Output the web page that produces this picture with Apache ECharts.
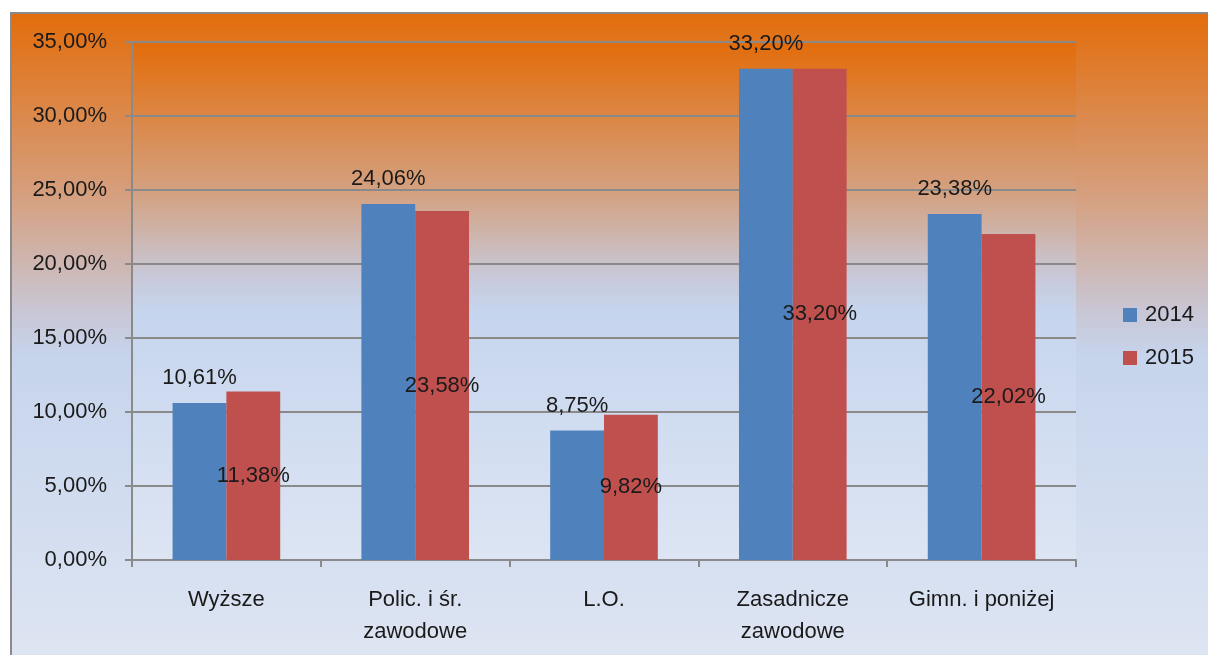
<!DOCTYPE html>
<html>
<head>
<meta charset="utf-8">
<script src="https://cdn.jsdelivr.net/npm/echarts@6/dist/echarts.min.js"></script>
<style>
html,body{margin:0;padding:0;background:#fff;}
#chart{width:1208px;height:655px;}
</style>
</head>
<body>
<div id="chart"></div>
<script>
const categories = ['Wyższe', 'Polic. i śr.\nzawodowe', 'L.O.', 'Zasadnicze\nzawodowe', 'Gimn. i poniżej'];
const seriesNames = ['2014', '2015'];
const values2014 = [10.61, 24.06, 8.75, 33.20, 23.38];
const values2015 = [11.38, 23.58, 9.82, 33.20, 22.02];
const yMin = 0, yMax = 35, yInterval = 5;

const fmt = v => v.toFixed(2).replace('.', ',') + '%';
const FONT = 'Liberation Sans';
const chart = echarts.init(document.getElementById('chart'));

const outerGrad = new echarts.graphic.LinearGradient(0, 0, 0, 1, [
  {offset: 0, color: '#e36c0a'},
  {offset: 0.28, color: '#d5a080'},
  {offset: 0.45, color: '#c9c6d4'},
  {offset: 0.52, color: '#c6d4ec'},
  {offset: 1, color: '#dfe6f3'}
]);
const plotGrad = new echarts.graphic.LinearGradient(0, 0, 0, 1, [
  {offset: 0, color: '#e36c0a'},
  {offset: 0.3, color: '#d3a385'},
  {offset: 0.45, color: '#c8c8d8'},
  {offset: 0.52, color: '#c6d5ee'},
  {offset: 1, color: '#dde5f3'}
]);

chart.setOption({
  animation: false,
  backgroundColor: '#ffffff',
  graphic: [{
    type: 'rect', z: -10, silent: true,
    shape: {x: 11, y: 13, width: 1220, height: 660},
    style: {fill: outerGrad, stroke: '#8a8a8a', lineWidth: 2}
  }],
  grid: {
    left: 132, right: 132, top: 42, bottom: 95,
    show: true, backgroundColor: plotGrad, borderWidth: 0
  },
  legend: {
    orient: 'vertical',
    left: 1118, top: 299,
    itemWidth: 14, itemHeight: 14, itemGap: 21,
    icon: 'rect',
    data: seriesNames,
    textStyle: {fontFamily: FONT, fontSize: 22, color: '#1a1a1a', padding: [0, 0, 0, 3]}
  },
  xAxis: {
    type: 'category',
    data: categories,
    axisLine: {show: true, lineStyle: {color: '#8a8a8a', width: 2}},
    axisTick: {show: true, length: 7, inside: false, lineStyle: {color: '#8a8a8a', width: 2}},
    axisLabel: {fontFamily: FONT, fontSize: 22, color: '#1a1a1a', margin: 24, lineHeight: 32, interval: 0}
  },
  yAxis: {
    type: 'value',
    min: yMin, max: yMax, interval: yInterval,
    axisLine: {show: true, lineStyle: {color: '#8a8a8a', width: 2}},
    axisTick: {show: true, length: 7, lineStyle: {color: '#8a8a8a', width: 2}},
    splitLine: {show: true, lineStyle: {color: '#8a8a8a', width: 2}},
    axisLabel: {fontFamily: FONT, fontSize: 22, color: '#1a1a1a', margin: 25, formatter: fmt}
  },
  series: [
    {
      name: seriesNames[0], type: 'bar', data: values2014,
      barWidth: '28.5%', barGap: '0%',
      itemStyle: {color: '#4f81bd'},
      label: {show: true, position: 'top', distance: 14, formatter: p => fmt(p.value),
        fontFamily: FONT, fontSize: 22, color: '#1a1a1a'}
    },
    {
      name: seriesNames[1], type: 'bar', data: values2015,
      barWidth: '28.5%',
      itemStyle: {color: '#c0504d'},
      label: {show: true, position: 'inside', formatter: p => fmt(p.value),
        fontFamily: FONT, fontSize: 22, color: '#1a1a1a'}
    }
  ]
});
</script>
</body>
</html>
